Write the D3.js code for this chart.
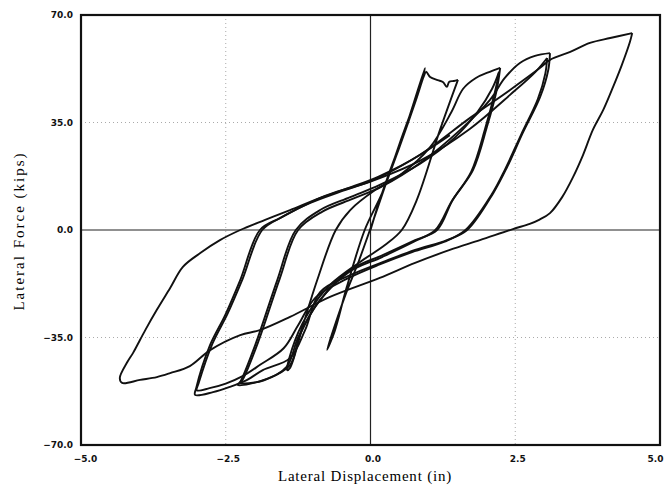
<!DOCTYPE html>
<html>
<head>
<meta charset="utf-8">
<script src="https://cdn.jsdelivr.net/npm/d3@7"></script>
<style>
  body { margin: 0; background: #fff; }
  .tick text { font-family: "DejaVu Sans", sans-serif; font-weight: bold; font-size: 9px; fill: #111; }
</style>
</head>
<body>
<div class="chart"></div>
<script>
// axis ticks
const xTicks = [-5.0, -2.5, 0.0, 2.5, 5.0];
const yTicks = [-70.0, -35.0, 0.0, 35.0, 70.0];

// first cycles: elastic loading to ~0.9 in, back to -0.75 in, then up again
const loop1Disp = [0, 0.16, 0.34, 0.62, 0.94, 0.86, 0.5, 0.12, -0.2, -0.45, -0.75, -0.62, -0.41, -0.1, 0.2, 0.5, 0.78, 0.92, 0.96, 1.03, 1.16, 1.25, 1.32, 1.36, 1.44, 1.51];
const loop1Force = [0, 9.8, 19.5, 34, 52.7, 47, 28, 7, -10, -22, -39, -33, -18.6, 0, 12, 27, 42, 50, 51.5, 49.8, 48.8, 48.2, 46.6, 48.3, 48.5, 48.9];

// cycle to -1.44 in, then up to 2.24 in
const loop2Disp = [1.51, 1.2, 0.8, 0.54, 0.25, -0.18, -0.7, -1.04, -1.3, -1.44, -1.39, -1.15, -0.92, -0.6, -0.35, 0.08, 0.51, 1.03, 1.4, 1.6, 1.82, 2.02, 2.24];
const loop2Force = [48.9, 32.6, 9.8, 0, -4.9, -10.4, -17.9, -26, -35.8, -45.6, -44.9, -30, -16.3, 0, 6.5, 13, 17.9, 27, 38.5, 46, 49.5, 51.2, 52.8];

// two cycles to about -2.3 in
const loop3Disp = [2.24, 2.18, 2.01, 1.77, 1.42, 1.15, 0.77, 0.22, -0.35, -0.87, -1.22, -1.39, -1.79, -2.29, -2.25, -1.99, -1.61, -1.29, -0.87, -0.35, 0.16, 0.85, 1.45, 1.85, 2.1, 2.22];
const loop3Force = [52.8, 45.6, 33.5, 19.5, 9.8, 0, -3.3, -8.1, -13, -22.8, -34.2, -44, -48.5, -50.5, -49.5, -37.4, -16.3, 0, 6.5, 10.7, 14.7, 21.5, 30, 38.5, 46, 51.5];
const loop3bDisp = [2.22, 2.15, 1.98, 1.74, 1.4, 1.12, 0.75, 0.2, -0.38, -0.9, -1.25, -1.45, -1.85, -2.26, -2.21, -1.95, -1.57, -1.25, -0.83, -0.3, 0.2, 0.9, 1.55, 2.06, 2.32, 2.58, 2.84, 3.1];
const loop3bForce = [51.5, 45, 33, 19, 9.3, 0, -3.8, -8.8, -13.8, -23.5, -35, -44.6, -49, -49.8, -48.8, -37, -16, 0, 6, 10.2, 14.2, 22.4, 32.6, 42.3, 49.5, 54.4, 56.7, 57.6];

// two cycles to about -3.05 in, ending at 4.52 in
const loop4Disp = [3.1, 3.07, 2.93, 2.63, 2.36, 2.12, 1.67, 1.32, 0.77, 0.22, -0.35, -0.87, -1.13, -1.39, -1.86, -2.13, -2.43, -2.72, -3.03, -3.01, -2.77, -2.51, -2.25, -1.91, -1.56, -1.04, -0.53, 0.08, 0.85, 1.72, 2.41, 2.85, 3.05];
const loop4Force = [57.6, 52.1, 43.3, 31.6, 20.5, 12, 0, -3.3, -6.5, -10.4, -14.7, -20.2, -32.6, -41.7, -45.6, -48.8, -51.1, -52.8, -53.7, -51.4, -37.4, -27.7, -16.3, 0, 3.9, 8.8, 12.4, 16.3, 22.5, 33, 44, 51.5, 56];
const loop4bDisp = [3.05, 3.02, 2.89, 2.6, 2.33, 2.09, 1.64, 1.28, 0.72, 0.16, -0.42, -0.95, -1.25, -1.5, -1.9, -2.2, -2.5, -2.78, -3.0, -2.97, -2.73, -2.47, -2.21, -1.87, -1.5, -0.98, -0.45, 0.15, 0.85, 1.72, 2.41, 2.93, 3.1, 3.45, 3.79, 4.14, 4.52];
const loop4bForce = [56, 51, 42.6, 31, 20, 11.5, 0, -3.8, -7.2, -11.2, -16, -22, -31, -38.5, -43.8, -47.5, -50, -51.5, -52.2, -50, -37, -27.3, -16, 0, 4.5, 9.5, 13.2, 17.5, 24.4, 36.5, 45.6, 52.8, 55.4, 58, 60.9, 62.5, 64.1];

// last cycle to -4.29 in and back
const loop5Disp = [4.52, 4.48, 4.34, 4.19, 4.02, 3.84, 3.67, 3.5, 3.31, 3.1, 2.92, 2.75, 2.46, 1.89, 1.37, 0.77, 0.16, -0.7, -1.39, -1.91, -2.25, -2.77, -3.12, -3.46, -3.69, -3.98, -4.29, -4.33, -4.2, -4.1, -3.89, -3.69, -3.46, -3.24, -2.94, -2.6, -2.25, -1.82, -1.39, -0.7, -0.04, 0.34, 0.85, 1.37];
const loop5Force = [64.1, 61.2, 53.7, 46.6, 39.1, 32.6, 24.4, 17.3, 10.7, 5.5, 3.4, 2.0, 0.3, -3.3, -6.5, -10.7, -15.6, -21.8, -28.3, -32.6, -34.2, -39.1, -44.3, -46.6, -47.9, -48.8, -49.8, -48.2, -43, -40, -32.6, -26, -18.9, -12, -7.5, -3.3, 0, 3.3, 6.5, 11.7, 15.6, 18.9, 24.4, 30.9];

const loops = [
  [loop1Disp, loop1Force],
  [loop2Disp, loop2Force],
  [loop3Disp, loop3Force],
  [loop3bDisp, loop3bForce],
  [loop4Disp, loop4Force],
  [loop4bDisp, loop4bForce],
  [loop5Disp, loop5Force]
];

const w = 669;
const h = 486;
const margin = { top: 15, right: 9, bottom: 41, left: 81 };

const xScale = d3.scaleLinear().domain([-5, 5]).range([margin.left, w - margin.right]);
const yScale = d3.scaleLinear().domain([-70, 70]).range([h - margin.bottom, margin.top]);

const svg = d3.select(".chart").append("svg").attr("width", w).attr("height", h);

// dotted grid
svg.append("g")
  .selectAll("line")
  .data([-2.5, 2.5])
  .enter()
  .append("line")
  .attr("x1", (d) => xScale(d))
  .attr("x2", (d) => xScale(d))
  .attr("y1", yScale(70))
  .attr("y2", yScale(-70))
  .attr("stroke", "#aaa")
  .attr("stroke-dasharray", "1,3");
svg.append("g")
  .selectAll("line")
  .data([-35, 35])
  .enter()
  .append("line")
  .attr("x1", xScale(-5))
  .attr("x2", xScale(5))
  .attr("y1", (d) => yScale(d))
  .attr("y2", (d) => yScale(d))
  .attr("stroke", "#aaa")
  .attr("stroke-dasharray", "1,3");

// zero lines
svg.append("line")
  .attr("x1", xScale(0)).attr("x2", xScale(0))
  .attr("y1", yScale(70)).attr("y2", yScale(-70))
  .attr("stroke", "#222").attr("stroke-width", 1.2);
svg.append("line")
  .attr("x1", xScale(-5)).attr("x2", xScale(5))
  .attr("y1", yScale(0)).attr("y2", yScale(0))
  .attr("stroke", "#222").attr("stroke-width", 1.2);

// hysteresis curve
const line = d3.line()
  .x((d) => xScale(d[0]))
  .y((d) => yScale(d[1]))
  .curve(d3.curveCatmullRom.alpha(0.5));

svg.append("g")
  .selectAll("path")
  .data(loops)
  .enter()
  .append("path")
  .attr("d", (d) => line(d[0].map((x, i) => [x, d[1][i]])))
  .attr("fill", "none")
  .attr("stroke", "#111")
  .attr("stroke-width", 1.9)
  .attr("stroke-linejoin", "round");

// axes
const xAxis = d3.axisBottom(xScale).tickValues(xTicks).tickSize(0).tickPadding(11).tickFormat(d3.format(".1f"));
const yAxis = d3.axisLeft(yScale).tickValues(yTicks).tickSize(0).tickPadding(8).tickFormat(d3.format(".1f"));

svg.append("g")
  .attr("transform", "translate(0," + (h - margin.bottom) + ")")
  .call(xAxis)
  .call((g) => g.select(".domain").remove())
  .call((g) => g.selectAll(".tick text").attr("dx", (d) => (d === -5 ? 4 : d === 5 ? -5 : 2)));
svg.append("g")
  .attr("transform", "translate(" + margin.left + ",0)")
  .call(yAxis)
  .call((g) => g.select(".domain").remove());

// frame
svg.append("rect")
  .attr("x", margin.left)
  .attr("y", margin.top)
  .attr("width", w - margin.left - margin.right)
  .attr("height", h - margin.top - margin.bottom)
  .attr("fill", "none")
  .attr("stroke", "#111")
  .attr("stroke-width", 2.2);

// axis titles
svg.append("text")
  .attr("x", 365)
  .attr("y", 481)
  .attr("text-anchor", "middle")
  .style("font-family", "'Liberation Serif', serif")
  .style("font-size", "15px")
  .style("letter-spacing", "0.8px")
  .text("Lateral Displacement (in)");
svg.append("text")
  .attr("transform", "translate(24," + 231 + ") rotate(-90)")
  .attr("text-anchor", "middle")
  .style("font-family", "'Liberation Serif', serif")
  .style("font-size", "15px")
  .style("letter-spacing", "2px")
  .text("Lateral Force (kips)");
</script>
</body>
</html>
